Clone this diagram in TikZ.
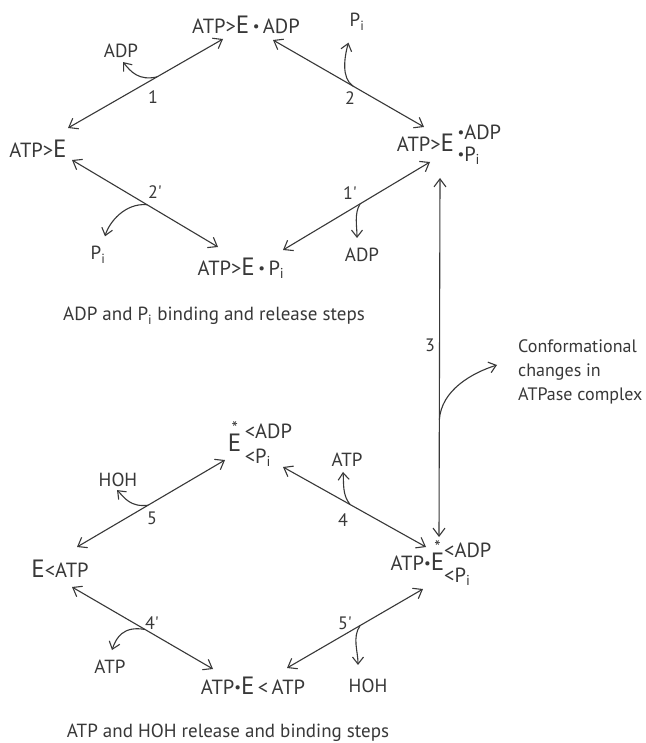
\documentclass[tikz,border=0pt]{standalone}
\usepackage{fontspec}
\setmainfont{PT Sans}
\usetikzlibrary{arrows.meta,calc}
\definecolor{ink}{HTML}{383838}
\newcommand{\bigE}{{\fontsize{25}{25}\selectfont E}}
\newcommand{\starE}{{\ooalign{\bigE\cr\hidewidth\raisebox{17pt}{\fontsize{18}{18}\selectfont *}\hidewidth\cr}}}
\newcommand{\Pii}{P\textsubscript{i}}
\newcommand{\dotb}{{\fontsize{15}{15}\selectfont\raisebox{2pt}{\textbullet}}}
\newcommand{\pr}{\textquotesingle}
\begin{document}
\begin{tikzpicture}[x=1pt,y=-1pt,
  every node/.style={inner sep=0pt, text=ink},
  species/.style={font=\fontsize{20.5}{22}\selectfont},
  small/.style={font=\fontsize{19}{20}\selectfont},
  steplab/.style={font=\fontsize{18}{20}\selectfont},
  note/.style={font=\fontsize{18}{24}\selectfont, align=left},
  caption/.style={font=\fontsize{19}{20}\selectfont},
  rxn/.style={draw=ink, line width=1.1pt, {Straight Barb[length=8pt,width=12pt]}-{Straight Barb[length=8pt,width=12pt]}},
  side/.style={draw=ink, line width=1.1pt, -{Straight Barb[length=7pt,width=11pt]}}]
\fill[white] (0,0) rectangle (645,743);
\useasboundingbox (0,0) rectangle (645,743);

% species
\node[species] (n1) at (246,25) {ATP>\bigE\,\dotb\,ADP};
\node[species] (n2) at (38,149) {ATP>\bigE};
\node[species] (n3) at (449,146) {ATP>\bigE\,{\renewcommand\arraystretch{0.98}\begin{tabular}{@{}l@{}}\dotb ADP\\\dotb\Pii\end{tabular}}};
\node[species] (n4) at (241,268) {ATP>\bigE\,\dotb\,\Pii};
\node[species] (n5) at (260,446) {\starE\,{\renewcommand\arraystretch{1.12}\begin{tabular}{@{}l@{}}<ADP\\<\Pii\end{tabular}}};
\node[species] (n6) at (60,569) {\bigE<ATP};
\node[species] (n7) at (441,565) {ATP\dotb\starE{\renewcommand\arraystretch{1.12}\begin{tabular}{@{}l@{}}<ADP\\<\Pii\end{tabular}}};
\node[species] (n8) at (253,686) {ATP\dotb\bigE\,<\,ATP};

% released / bound species
\node[small] (adp1) at (121,51) {ADP};
\node[small] (pi1) at (357,22) {\Pii};
\node[small] (pi2) at (98,255) {\Pii};
\node[small] (adp2) at (362,255) {ADP};
\node[small] (hoh1) at (118,480) {HOH};
\node[small] (atp1) at (347,460) {ATP};
\node[small] (atp2) at (110,667) {ATP};
\node[small] (hoh2) at (368,686) {HOH};

% step numbers
\node[steplab] (s1) at (153,97) {1};
\node[steplab] (s2) at (350,98) {2};
\node[steplab] (s2p) at (155,192) {2\pr};
\node[steplab] (s1p) at (350,193) {1\pr};
\node[steplab] (s3) at (430,345) {3};
\node[steplab] (s5) at (152,518) {5};
\node[steplab] (s4) at (343,520) {4};
\node[steplab] (s4p) at (152,623) {4\pr};
\node[steplab] (s5p) at (345,623) {5\pr};

% notes and captions
\node[note, anchor=west] (conf) at (518,372) {Conformational\\changes in\\ATPase complex};
\node[caption] (cap1) at (214,316) {ADP and \Pii\ binding and release steps};
\node[caption] (cap2) at (228,733) {ATP and HOH release and binding steps};

% reaction arrows
\draw[rxn] ($(n2)+(30,-21)$) -- coordinate[pos=0.574] (m1) ($(n1)+(-23,14)$);
\draw[rxn] ($(n1)+(27,15)$) -- coordinate[pos=0.53] (m2) ($(n3)+(-25,-19)$);
\draw[rxn] ($(n2)+(34,11)$) -- coordinate[pos=0.514] (m2p) ($(n4)+(-23,-21)$);
\draw[rxn] ($(n4)+(42,-18)$) -- coordinate[pos=0.524] (m1p) ($(n3)+(-19,16)$);
\draw[rxn] ($(n3)+(-9,32)$) -- coordinate[pos=0.674] (m3) ($(n7)+(-2,-28)$);
\draw[rxn] ($(n6)+(17,-22)$) -- coordinate[pos=0.48] (m5) ($(n5)+(-35,14)$);
\draw[rxn] ($(n5)+(23,21)$) -- coordinate[pos=0.469] (m4) ($(n7)+(-15,-18)$);
\draw[rxn] ($(n6)+(12,18)$) -- coordinate[pos=0.518] (m4p) ($(n8)+(-40,-17)$);
\draw[rxn] ($(n8)+(34,-18)$) -- coordinate[pos=0.537] (m5p) ($(n7)+(-18,24)$);

% side arrows
\draw[side] (m1) .. controls +(-18,4) and +(8,10) .. ($(adp1.south)+(2,4)$);
\draw[side] (m2) .. controls +(-12,-8) and +(-4,14) .. ($(pi1.south west)+(-1,12)$);
\draw[side] (m2p) .. controls +(-22,-2) and +(4,-14) .. ($(pi2.north)+(7,-10)$);
\draw[side] (m1p) .. controls +(-6,10) and +(0,-12) .. ($(adp2.north)+(-5,-10)$);
\draw[side] (m3) .. controls +(2,-30) and +(-25,8) .. ($(conf.west)+(-21,-7)$);
\draw[side] (m5) .. controls +(-18,2) and +(8,8) .. ($(hoh1.south)+(-1,3)$);
\draw[side] (m4) .. controls +(-8,-10) and +(1,12) .. ($(atp1.south)+(-4,5)$);
\draw[side] (m4p) .. controls +(-22,-4) and +(4,-12) .. ($(atp2.north)+(2,-10)$);
\draw[side] (m5p) .. controls +(-8,12) and +(0,-14) .. ($(hoh2.north)+(-10,-14)$);
\end{tikzpicture}
\end{document}
